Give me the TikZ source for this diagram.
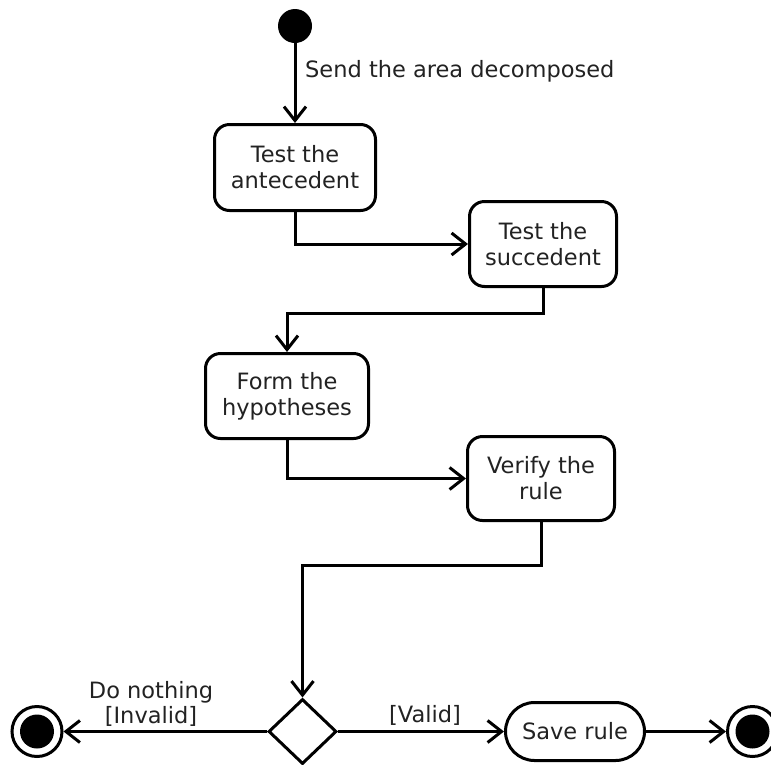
\documentclass[tikz,border=0pt]{standalone}
\usepackage{fontspec}
\setmainfont{DejaVu Sans}
\usetikzlibrary{arrows.meta,shapes.geometric}
\definecolor{txt}{HTML}{222222}
\begin{document}
\begin{tikzpicture}[x=1pt,y=-1pt,
  every node/.style={font=\fontsize{22.5}{25.8}\selectfont, text=txt},
  act/.style={draw, line width=3pt, rounded corners=15pt, align=center, inner sep=0pt},
  flow/.style={line width=3pt, -{Straight Barb[length=14pt,width=22pt]}},
  startdot/.style={circle, fill=black, minimum size=34pt, inner sep=0pt},
  enddot/.style={circle, draw, line width=3pt, fill=white, minimum size=50pt, inner sep=0pt},
  lbl/.style={inner sep=0pt, align=center}]
\useasboundingbox (0,0) rectangle (771,764);

\node[startdot] (s) at (295,26) {};
\node[act, minimum width=161pt, minimum height=86pt] (a1) at (295,167.5) {Test the\\antecedent};
\node[act, minimum width=147pt, minimum height=85pt] (a2) at (543,244) {Test the\\succedent};
\node[act, minimum width=163pt, minimum height=85pt] (a3) at (287,396) {Form the\\hypotheses};
\node[act, minimum width=147pt, minimum height=84pt] (a4) at (541,478.5) {Verify the\\rule};
\node[diamond, draw, line width=3pt, minimum width=68pt, minimum height=65pt, inner sep=0pt] (d) at (302.5,731.5) {};
\node[act, rounded corners=29pt, minimum width=139pt, minimum height=58pt] (save) at (575,731.5) {Save rule};
\node[enddot] (e1) at (37,731.5) {};
\fill (e1.center) circle[radius=17pt];
\node[enddot] (e2) at (752.5,731.5) {};
\fill (e2.center) circle[radius=17pt];

\coordinate (k1) at (0,313);
\coordinate (k2) at (0,565.5);

\node[lbl, anchor=base west] (l0) at (305,77) {Send the area decomposed};
\node[lbl] (l1) at (151,704) {Do nothing\\{[Invalid]}};
\node[lbl, anchor=base] (l2) at (425,722) {[Valid]};

\draw[flow] (s) -- (a1);
\draw[flow] (a1.south) |- (a2.west);
\draw[flow] (a2.south) -- (a2.south |- k1) -| (a3.north);
\draw[flow] (a3.south) |- (a4.west);
\draw[flow] (a4.south) -- (a4.south |- k2) -| (d.north);
\draw[flow] (d.west) -- (e1);
\draw[flow] (d.east) -- (save);
\draw[flow] (save) -- (e2);
\end{tikzpicture}
\end{document}
